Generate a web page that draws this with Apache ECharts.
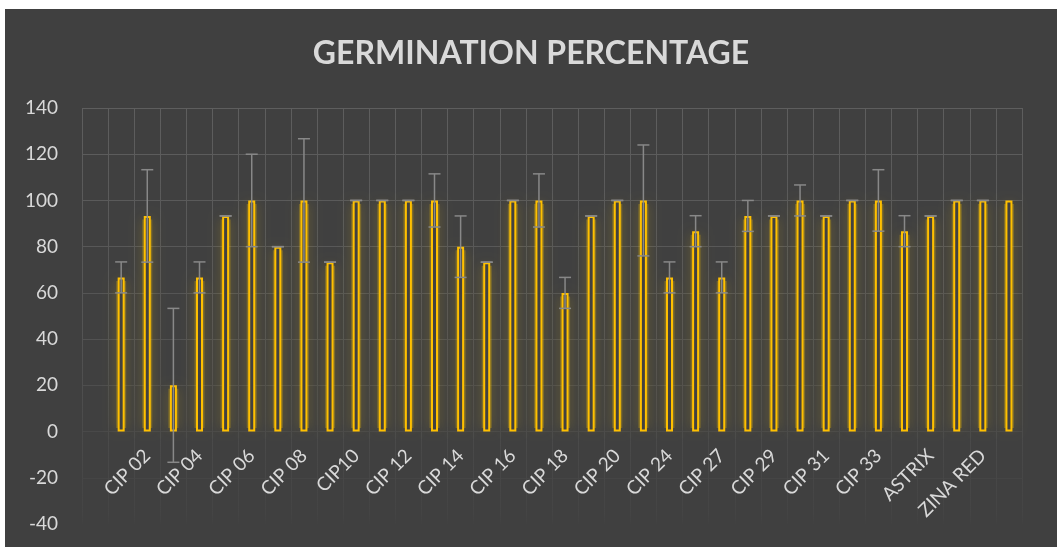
<!DOCTYPE html>
<html>
<head>
<meta charset="utf-8">
<title>Germination percentage</title>
<script src="https://cdn.jsdelivr.net/npm/echarts@6/dist/echarts.min.js"></script>
<style>
  html, body { margin: 0; padding: 0; background: #ffffff; }
  #chart { position: absolute; left: 5px; top: 9px; width: 1052px; height: 538px; }
</style>
</head>
<body>
<div id="chart"></div>
<script>
// genotypes (first slot is an empty category, as in the sheet)
const categories = [
  '', 'CIP 01', 'CIP 02', 'CIP 03', 'CIP 04', 'CIP 05', 'CIP 06', 'CIP 07', 'CIP 08',
  'CIP 09', 'CIP10', 'CIP 11', 'CIP 12', 'CIP 13', 'CIP 14', 'CIP 15', 'CIP 16',
  'CIP 17', 'CIP 18', 'CIP 19', 'CIP 20', 'CIP 22', 'CIP 24', 'CIP 26', 'CIP 27',
  'CIP 28', 'CIP 29', 'CIP 30', 'CIP 31', 'CIP 32', 'CIP 33', 'CIP 34', 'ASTRIX',
  'SPUNTA', 'ZINA RED', 'DESIREE',
]

// mean germination (%)
const germination = [
  null, 66.7, 93.3, 20, 66.7, 93.3, 100, 80, 100,
  73.3, 100, 100, 100, 100, 80, 73.3, 100,
  100, 60, 93.3, 100, 100, 66.7, 86.7, 66.7,
  93.3, 93.3, 100, 93.3, 100, 100, 86.7, 93.3,
  100, 100, 100,
]

// standard deviation shown as error bars
const errors = [
  null, 6.7, 20, 33.3, 6.7, 0, 20, 0, 26.7,
  0, 0, 0, 0, 11.5, 13.3, 0, 0,
  11.5, 6.7, 0, 0, 24, 6.7, 6.7, 6.7,
  6.7, 0, 6.7, 0, 0, 13.3, 6.7, 0,
  0, 0, null,
]

const yMin = -40
const yMax = 140
const yStep = 20

const labelColor = '#d9d9d9'
const font = 'Lato, "Noto Sans", sans-serif'

const gridHeight = 416
// the category axis sits on 0, so lift it from the bottom of the grid
const zeroOffset = -gridHeight * (0 - yMin) / (yMax - yMin)

const errorData = []
categories.forEach((c, i) => {
  if (germination[i] != null && errors[i] != null) {
    errorData.push([i, germination[i], errors[i]])
  }
})

function renderErrorBar(params, api) {
  const x = api.value(0)
  const mean = api.value(1)
  const err = api.value(2)
  const top = api.coord([x, mean + err])
  const bottom = api.coord([x, mean - err])
  const half = 6
  const style = { stroke: '#888888', lineWidth: 1.5 }
  return {
    type: 'group',
    children: [
      { type: 'line', shape: { x1: top[0], y1: top[1], x2: bottom[0], y2: bottom[1] }, style },
      { type: 'line', shape: { x1: top[0] - half, y1: top[1], x2: top[0] + half, y2: top[1] }, style },
      { type: 'line', shape: { x1: bottom[0] - half, y1: bottom[1], x2: bottom[0] + half, y2: bottom[1] }, style },
    ],
  }
}

const chart = echarts.init(document.getElementById('chart'), null, { renderer: 'canvas' })

const option = {
  backgroundColor: '#404040',
  animation: false,
  title: {
    text: 'GERMINATION PERCENTAGE',
    left: 'center',
    top: 24,
    textStyle: {
      color: labelColor,
      fontFamily: font,
      fontWeight: 'bold',
      fontSize: 32,
    },
  },
  grid: {
    left: 77,
    top: 99,
    width: 940,
    height: gridHeight,
    containLabel: false,
    outerBoundsMode: 'none',
  },
  xAxis: {
    type: 'category',
    data: categories,
    offset: zeroOffset,
    axisLine: {
      show: false,
      onZero: false,
    },
    axisTick: { show: false, interval: 0 },
    axisLabel: {
      interval: 1,
      rotate: 45,
      color: labelColor,
      fontFamily: font,
      fontSize: 19,
      margin: 21,
    },
    splitLine: {
      show: true,
      interval: 0,
      lineStyle: {
        width: 1,
        color: {
          type: 'linear',
          x: 0, y: 0, x2: 0, y2: 1,
          colorStops: [
            { offset: 0, color: '#5e5e5e' },
            { offset: 0.5, color: '#555555' },
            { offset: 0.78, color: '#4a4a4a' },
            { offset: 0.97, color: '#444444' },
            { offset: 1, color: '#404040' },
          ],
        },
      },
    },
  },
  yAxis: {
    type: 'value',
    min: yMin,
    max: yMax,
    interval: yStep,
    axisLine: { show: false },
    axisTick: { show: false },
    axisLabel: {
      color: labelColor,
      fontFamily: font,
      fontSize: 19,
      margin: 24,
    },
    splitLine: {
      lineStyle: {
        width: 1,
        color: [
          'rgba(0,0,0,0)', '#454545', '#494949', '#4e4e4e', '#525252',
          '#555555', '#585858', '#5a5a5a', '#5c5c5c', '#5e5e5e',
        ],
      },
    },
  },
  series: [
    {
      // soft halo under the bars
      name: 'glow',
      type: 'bar',
      data: germination,
      barWidth: 7,
      silent: true,
      z: 1,
      itemStyle: {
        color: 'rgba(255, 200, 0, 0.26)',
        borderColor: 'rgba(255, 200, 0, 0.26)',
        borderWidth: 10,
        shadowBlur: 12,
        shadowColor: 'rgba(255, 200, 0, 0.7)',
      },
      emphasis: { disabled: true },
    },
    {
      name: 'Germination',
      type: 'bar',
      data: germination,
      barWidth: 7,
      barGap: '-100%',
      z: 2,
      itemStyle: {
        color: '#414141',
        borderColor: '#ffc000',
        borderWidth: 2,
      },
      emphasis: { disabled: true },
    },
    {
      name: 'SD',
      type: 'custom',
      renderItem: renderErrorBar,
      data: errorData,
      encode: { x: 0, y: 1 },
      z: 5,
    },
  ],
}

chart.setOption(option)
</script>
</body>
</html>
